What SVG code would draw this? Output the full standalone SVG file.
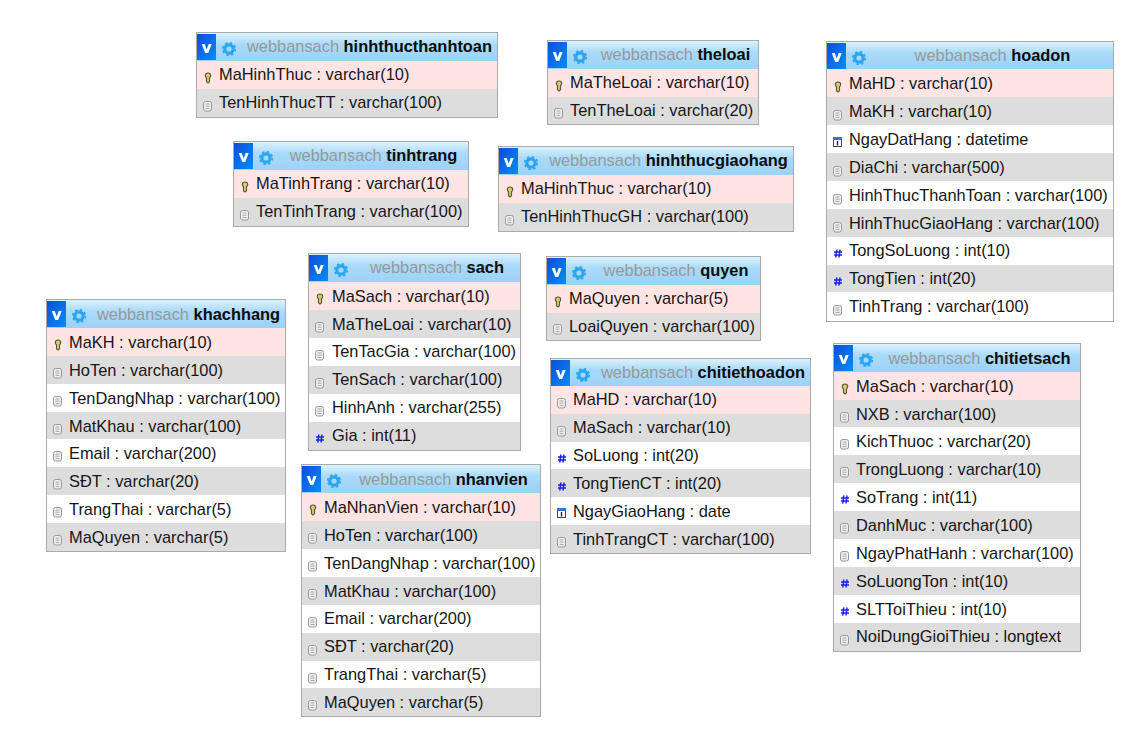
<svg xmlns="http://www.w3.org/2000/svg" width="1145" height="730" viewBox="0 0 1145 730">
<style>
text{font-family:"Liberation Sans",Arial,sans-serif;font-size:16.4px;fill:#161616}
.f{fill:#fff;stroke:#aaa;stroke-width:1}
.hd{fill:url(#hg)}
.vb{fill:url(#vg)}
.t{text-anchor:middle;fill:#999}
.t tspan{font-weight:bold;fill:#0c0c0c}
.p{fill:#ffe4e4}.g{fill:#ddd}
rect{shape-rendering:crispEdges}
</style>
<defs>
<linearGradient id="hg" x1="0" y1="0" x2="0" y2="1"><stop offset="0" stop-color="#dcf2fe"/><stop offset=".4" stop-color="#a9daf9"/><stop offset="1" stop-color="#9dd2f6"/></linearGradient>
<linearGradient id="vg" x1="0" y1="0" x2="1" y2="1"><stop offset="0" stop-color="#0a4fd8"/><stop offset="1" stop-color="#0a8cf5"/></linearGradient>
<g id="hb"><rect class="vb" x="1" y="2" width="19" height="26"/><path d="M5.700 12h3l2 5.500 2-5.500h3l-3.500 9h-3z" fill="#fff"/><circle cx="33" cy="17" r="4.200" fill="none" stroke="#2ba5f0" stroke-width="3.200"/><circle cx="33" cy="17" r="6.300" fill="none" stroke="#2ba5f0" stroke-width="1.600" stroke-dasharray="2.500 2.450"/></g>
<g id="k"><path d="M12 12c-1.700 0-2.700 1.200-2.700 2.600 0 1 .5 1.700 1.200 2.200v4l1.500 1.200 1.500-1.200v-4c.7-.5 1.200-1.200 1.200-2.200 0-1.400-1-2.600-2.700-2.600z" fill="#d8cb6a" stroke="#56563c" stroke-width="1.100"/></g>
<g id="c"><rect x="7.500" y="12.500" width="8" height="9.500" rx="2" fill="#eee" stroke="#999" style="shape-rendering:auto"/><path d="M9.500 15h4M9.500 17.200h4M9.500 19.500h4" stroke="#aaa" fill="none"/></g>
<g id="n"><path d="M10.800 12.500l-1 8M14 12.500l-1 8M8 15h8M8 18h8" stroke="#1a22e0" stroke-width="1.500" fill="none"/></g>
<g id="d"><rect x="7.500" y="11.500" width="8" height="9" fill="#fff" stroke="#445" style="shape-rendering:auto"/><rect x="7" y="11" width="9" height="3" fill="#3a6fd8"/><path d="M11.500 15v4.500" stroke="#223" stroke-width="1.400"/></g>
</defs>
<g id="connectors"/>

<g id="hinhthucthanhtoan" transform="translate(196,32)">
<rect class="f" x=".5" y=".5" width="301" height="85"/><rect class="hd" x="1" y="1" width="300" height="28"/><use href="#hb"/>
<text class="t" x="173.500" y="20">webbansach <tspan>hinhthucthanhtoan</tspan></text>
<rect class="p" x="1" y="29" width="300" height="28"/><use href="#k" y="29"/><text x="23" y="48">MaHinhThuc : varchar(10)</text>
<rect class="g" x="1" y="57" width="300" height="28"/><use href="#c" y="57"/><text x="23" y="76">TenHinhThucTT : varchar(100)</text>
</g>

<g id="theloai" transform="translate(547,40)">
<rect class="f" x=".5" y=".5" width="211" height="84"/><rect class="hd" x="1" y="1" width="210" height="28"/><use href="#hb"/>
<text class="t" x="128.500" y="20">webbansach <tspan>theloai</tspan></text>
<rect class="p" x="1" y="29" width="210" height="28"/><use href="#k" y="29"/><text x="23" y="48">MaTheLoai : varchar(10)</text>
<rect class="g" x="1" y="57" width="210" height="27"/><use href="#c" y="56"/><text x="23" y="76">TenTheLoai : varchar(20)</text>
</g>

<g id="hoadon" transform="translate(826,41)">
<rect class="f" x=".5" y=".5" width="287" height="280"/><rect class="hd" x="1" y="1" width="286" height="27"/><use href="#hb"/>
<text class="t" x="166.500" y="20">webbansach <tspan>hoadon</tspan></text>
<rect class="p" x="1" y="28" width="286" height="28"/><use href="#k" y="29"/><text x="23" y="48">MaHD : varchar(10)</text>
<rect class="g" x="1" y="56" width="286" height="28"/><use href="#c" y="57"/><text x="23" y="76">MaKH : varchar(10)</text>
<use href="#d" y="85"/><text x="23" y="104">NgayDatHang : datetime</text>
<rect class="g" x="1" y="112" width="286" height="28"/><use href="#c" y="113"/><text x="23" y="132">DiaChi : varchar(500)</text>
<use href="#c" y="141"/><text x="23" y="160">HinhThucThanhToan : varchar(100)</text>
<rect class="g" x="1" y="168" width="286" height="28"/><use href="#c" y="169"/><text x="23" y="188">HinhThucGiaoHang : varchar(100)</text>
<use href="#n" y="196"/><text x="23" y="215">TongSoLuong : int(10)</text>
<rect class="g" x="1" y="224" width="286" height="27"/><use href="#n" y="224"/><text x="23" y="243">TongTien : int(20)</text>
<use href="#c" y="252"/><text x="23" y="271">TinhTrang : varchar(100)</text>
</g>

<g id="tinhtrang" transform="translate(233,141)">
<rect class="f" x=".5" y=".5" width="235" height="85"/><rect class="hd" x="1" y="1" width="234" height="28"/><use href="#hb"/>
<text class="t" x="140.500" y="20">webbansach <tspan>tinhtrang</tspan></text>
<rect class="p" x="1" y="29" width="234" height="28"/><use href="#k" y="29"/><text x="23" y="48">MaTinhTrang : varchar(10)</text>
<rect class="g" x="1" y="57" width="234" height="28"/><use href="#c" y="57"/><text x="23" y="76">TenTinhTrang : varchar(100)</text>
</g>

<g id="hinhthucgiaohang" transform="translate(498,146)">
<rect class="f" x=".5" y=".5" width="295" height="85"/><rect class="hd" x="1" y="1" width="294" height="28"/><use href="#hb"/>
<text class="t" x="170.500" y="20">webbansach <tspan>hinhthucgiaohang</tspan></text>
<rect class="p" x="1" y="29" width="294" height="28"/><use href="#k" y="29"/><text x="23" y="48">MaHinhThuc : varchar(10)</text>
<rect class="g" x="1" y="57" width="294" height="28"/><use href="#c" y="57"/><text x="23" y="76">TenHinhThucGH : varchar(100)</text>
</g>

<g id="sach" transform="translate(308,253)">
<rect class="f" x=".5" y=".5" width="212" height="197"/><rect class="hd" x="1" y="1" width="211" height="28"/><use href="#hb"/>
<text class="t" x="129" y="20">webbansach <tspan>sach</tspan></text>
<rect class="p" x="1" y="29" width="211" height="28"/><use href="#k" y="29"/><text x="24" y="49">MaSach : varchar(10)</text>
<rect class="g" x="1" y="57" width="211" height="28"/><use href="#c" y="57"/><text x="24" y="77">MaTheLoai : varchar(10)</text>
<use href="#c" y="85"/><text x="24" y="104">TenTacGia : varchar(100)</text>
<rect class="g" x="1" y="113" width="211" height="28"/><use href="#c" y="113"/><text x="24" y="132">TenSach : varchar(100)</text>
<use href="#c" y="141"/><text x="24" y="160">HinhAnh : varchar(255)</text>
<rect class="g" x="1" y="169" width="211" height="28"/><use href="#n" y="169"/><text x="24" y="188">Gia : int(11)</text>
</g>

<g id="quyen" transform="translate(546,256)">
<rect class="f" x=".5" y=".5" width="214" height="84"/><rect class="hd" x="1" y="1" width="213" height="28"/><use href="#hb"/>
<text class="t" x="130" y="20">webbansach <tspan>quyen</tspan></text>
<rect class="p" x="1" y="29" width="213" height="28"/><use href="#k" y="29"/><text x="23" y="48">MaQuyen : varchar(5)</text>
<rect class="g" x="1" y="57" width="213" height="27"/><use href="#c" y="56"/><text x="23" y="76">LoaiQuyen : varchar(100)</text>
</g>

<g id="khachhang" transform="translate(46,299)">
<rect class="f" x=".5" y=".5" width="239" height="252"/><rect class="hd" x="1" y="1" width="238" height="28"/><use href="#hb"/>
<text class="t" x="142.500" y="21">webbansach <tspan>khachhang</tspan></text>
<rect class="p" x="1" y="29" width="238" height="28"/><use href="#k" y="29"/><text x="23" y="49">MaKH : varchar(10)</text>
<rect class="g" x="1" y="57" width="238" height="28"/><use href="#c" y="57"/><text x="23" y="77">HoTen : varchar(100)</text>
<use href="#c" y="85"/><text x="23" y="105">TenDangNhap : varchar(100)</text>
<rect class="g" x="1" y="113" width="238" height="27"/><use href="#c" y="113"/><text x="23" y="133">MatKhau : varchar(100)</text>
<use href="#c" y="140"/><text x="23" y="160">Email : varchar(200)</text>
<rect class="g" x="1" y="168" width="238" height="28"/><use href="#c" y="168"/><text x="23" y="188">SĐT : varchar(20)</text>
<use href="#c" y="196"/><text x="23" y="216">TrangThai : varchar(5)</text>
<rect class="g" x="1" y="224" width="238" height="28"/><use href="#c" y="224"/><text x="23" y="244">MaQuyen : varchar(5)</text>
</g>

<g id="chitiethoadon" transform="translate(550,358)">
<rect class="f" x=".5" y=".5" width="260" height="195"/><rect class="hd" x="1" y="1" width="259" height="27"/><use href="#hb"/>
<text class="t" x="153" y="20">webbansach <tspan>chitiethoadon</tspan></text>
<rect class="p" x="1" y="28" width="259" height="28"/><use href="#c" y="28"/><text x="23" y="47">MaHD : varchar(10)</text>
<rect class="g" x="1" y="56" width="259" height="28"/><use href="#c" y="56"/><text x="23" y="75">MaSach : varchar(10)</text>
<use href="#n" y="84"/><text x="23" y="103">SoLuong : int(20)</text>
<rect class="g" x="1" y="111" width="259" height="28"/><use href="#n" y="112"/><text x="23" y="131">TongTienCT : int(20)</text>
<use href="#d" y="139"/><text x="23" y="159">NgayGiaoHang : date</text>
<rect class="g" x="1" y="167" width="259" height="28"/><use href="#c" y="167"/><text x="23" y="187">TinhTrangCT : varchar(100)</text>
</g>

<g id="chitietsach" transform="translate(833,343)">
<rect class="f" x=".5" y=".5" width="247" height="308"/><rect class="hd" x="1" y="1" width="246" height="28"/><use href="#hb"/>
<text class="t" x="146.500" y="21">webbansach <tspan>chitietsach</tspan></text>
<rect class="p" x="1" y="29" width="246" height="28"/><use href="#k" y="29"/><text x="23" y="49">MaSach : varchar(10)</text>
<rect class="g" x="1" y="57" width="246" height="27"/><use href="#c" y="57"/><text x="23" y="77">NXB : varchar(100)</text>
<use href="#c" y="84"/><text x="23" y="104">KichThuoc : varchar(20)</text>
<rect class="g" x="1" y="112" width="246" height="28"/><use href="#c" y="112"/><text x="23" y="132">TrongLuong : varchar(10)</text>
<use href="#n" y="140"/><text x="23" y="160">SoTrang : int(11)</text>
<rect class="g" x="1" y="168" width="246" height="28"/><use href="#c" y="168"/><text x="23" y="188">DanhMuc : varchar(100)</text>
<use href="#c" y="196"/><text x="23" y="216">NgayPhatHanh : varchar(100)</text>
<rect class="g" x="1" y="224" width="246" height="28"/><use href="#n" y="224"/><text x="23" y="244">SoLuongTon : int(10)</text>
<use href="#n" y="252"/><text x="23" y="272">SLTToiThieu : int(10)</text>
<rect class="g" x="1" y="280" width="246" height="28"/><use href="#c" y="280"/><text x="23" y="299">NoiDungGioiThieu : longtext</text>
</g>

<g id="nhanvien" transform="translate(301,464)">
<rect class="f" x=".5" y=".5" width="239" height="252"/><rect class="hd" x="1" y="1" width="238" height="28"/><use href="#hb"/>
<text class="t" x="142.500" y="21">webbansach <tspan>nhanvien</tspan></text>
<rect class="p" x="1" y="29" width="238" height="28"/><use href="#k" y="29"/><text x="23" y="49">MaNhanVien : varchar(10)</text>
<rect class="g" x="1" y="57" width="238" height="28"/><use href="#c" y="57"/><text x="23" y="77">HoTen : varchar(100)</text>
<use href="#c" y="85"/><text x="23" y="105">TenDangNhap : varchar(100)</text>
<rect class="g" x="1" y="113" width="238" height="28"/><use href="#c" y="113"/><text x="23" y="133">MatKhau : varchar(100)</text>
<use href="#c" y="141"/><text x="23" y="160">Email : varchar(200)</text>
<rect class="g" x="1" y="169" width="238" height="28"/><use href="#c" y="169"/><text x="23" y="188">SĐT : varchar(20)</text>
<use href="#c" y="197"/><text x="23" y="216">TrangThai : varchar(5)</text>
<rect class="g" x="1" y="224" width="238" height="28"/><use href="#c" y="224"/><text x="23" y="244">MaQuyen : varchar(5)</text>
</g>
</svg>
